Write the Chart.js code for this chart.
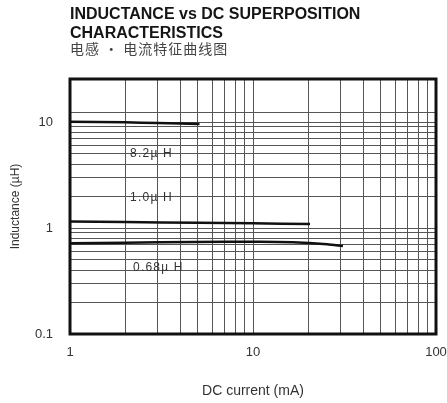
<!DOCTYPE html>
<html><head><meta charset="utf-8">
<script src="https://cdn.jsdelivr.net/npm/chart.js@4/dist/chart.umd.min.js"></script>
<style>html,body{margin:0;padding:0;background:#fff;overflow:hidden}</style>
</head><body>
<canvas id="c" width="447" height="403"></canvas>
<script>
const titleLines = ['INDUCTANCE vs DC SUPERPOSITION', 'CHARACTERISTICS'];
const subtitleText = '电感 · 电流特征曲线图';
const xAxisTitle = 'DC current (mA)';
const yAxisTitle = 'Inductance (µH)';

const xGridValues = [1,2,3,4,5,6,7,8,9,10,20,30,40,50,60,70,80,90,100];
const yGridValues = [0.1,0.2,0.3,0.4,0.5,0.6,0.7,0.8,0.9,1,2,3,4,5,6,7,8,9,10,12.4];
const xTickValues = [1, 10, 100];
const xTickText = ['1', '10', '100'];
const yTickValues = [0.1, 1, 10];
const yTickText = ['0.1', '1', '10'];

const current82 = [1, 2, 3, 4, 5.1];
const ind82 = [10.05, 9.95, 9.8, 9.7, 9.6];
const current10 = [1, 2, 5, 10, 20.5];
const ind10 = [1.15, 1.14, 1.12, 1.11, 1.09];
const current068 = [1, 2, 4.7, 10.9, 16.5, 25.4, 31];
const ind068 = [0.717, 0.727, 0.738, 0.743, 0.733, 0.702, 0.676];

const seriesLabels = ['8.2\u00b5 H', '1.0\u00b5 H', '0.68\u00b5 H'];
const seriesLabelX = [2.13, 2.13, 2.21];
const seriesLabelY = [4.99, 1.92, 0.42];

const pts = (xs, ys) => xs.map((x, i) => ({x, y: ys[i]}));
const findLabel = (v, vals, txt) => {
  for (let i = 0; i < vals.length; i++) if (Math.abs(v - vals[i]) < 1e-9 * Math.max(1, vals[i])) return txt[i];
  return '';
};

const lineStyle = {borderColor: '#111', borderWidth: 2.5, pointRadius: 0, fill: false, tension: 0.3};

const decorPlugin = {
  id: 'decor',
  afterDatasetsDraw(chart) {
    const {ctx, chartArea: a, scales} = chart;
    ctx.save();
    ctx.strokeStyle = '#111';
    ctx.lineWidth = 3;
    ctx.strokeRect(a.left, a.top, a.right - a.left, a.bottom - a.top);
    ctx.fillStyle = '#333';
    ctx.font = '12px "Liberation Sans", Arial, sans-serif';
    ctx.letterSpacing = '1.2px';
    ctx.textAlign = 'left';
    ctx.textBaseline = 'middle';
    seriesLabels.forEach((t, i) => {
      ctx.fillText(t, scales.x.getPixelForValue(seriesLabelX[i]), scales.y.getPixelForValue(seriesLabelY[i]));
    });
    ctx.letterSpacing = '0px';
    ctx.fillStyle = '#151515';
    ctx.font = 'bold 16px "Liberation Sans", Arial, sans-serif';
    ctx.textBaseline = 'alphabetic';
    ctx.fillText(titleLines[0], a.left, 19);
    ctx.fillText(titleLines[1], a.left, 38);
    ctx.fillStyle = '#444';
    ctx.font = '14px "Noto Sans CJK SC", sans-serif';
    ctx.letterSpacing = '1px';
    ctx.textBaseline = 'middle';
    ctx.fillText(subtitleText, a.left, 49);
    ctx.restore();
  }
};

new Chart(document.getElementById('c'), {
  type: 'line',
  data: {
    datasets: [
      Object.assign({label: seriesLabels[0], data: pts(current82, ind82)}, lineStyle),
      Object.assign({label: seriesLabels[1], data: pts(current10, ind10)}, lineStyle),
      Object.assign({label: seriesLabels[2], data: pts(current068, ind068)}, lineStyle)
    ]
  },
  options: {
    responsive: false,
    animation: false,
    layout: {autoPadding: false, padding: {top: 79, right: 11, bottom: 0, left: 0}},
    plugins: {legend: {display: false}, tooltip: {enabled: false}},
    scales: {
      x: {
        type: 'logarithmic', min: 1, max: 100,
        afterBuildTicks: s => { s.ticks = xGridValues.map(v => ({value: v})); },
        afterFit: s => { s.height = 69; s.paddingLeft = 0; s.paddingRight = 0; },
        grid: {color: '#555', lineWidth: 1, drawTicks: false},
        border: {display: false},
        ticks: {autoSkip: false, maxRotation: 0, padding: 11, color: '#333',
          font: {family: '"Liberation Sans", Arial, sans-serif', size: 13},
          callback: v => findLabel(v, xTickValues, xTickText)},
        title: {display: true, text: xAxisTitle, color: '#333',
          font: {family: '"Liberation Sans", Arial, sans-serif', size: 14},
          padding: {top: 0, bottom: 3}}
      },
      y: {
        type: 'logarithmic', min: 0.1, max: 25.5,
        afterBuildTicks: s => { s.ticks = yGridValues.map(v => ({value: v})); },
        afterFit: s => { s.width = 70; s.paddingTop = 0; s.paddingBottom = 0; },
        grid: {color: '#555', lineWidth: 1, drawTicks: false},
        border: {display: false},
        ticks: {autoSkip: false, padding: 17, color: '#333',
          font: {family: '"Liberation Sans", Arial, sans-serif', size: 13},
          callback: v => findLabel(v, yTickValues, yTickText)},
        title: {display: true, text: yAxisTitle, color: '#333',
          font: {family: '"Liberation Sans", Arial, sans-serif', size: 12},
          padding: {top: 8, bottom: 0}}
      }
    }
  },
  plugins: [decorPlugin]
});
</script>
</body></html>
